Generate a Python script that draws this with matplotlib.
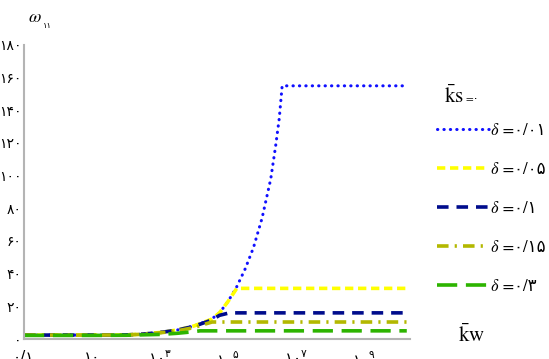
import matplotlib
matplotlib.use("Agg")
import matplotlib.pyplot as plt

# ---- data ----
x_ticks = [1e-1, 1e1, 1e3, 1e5, 1e7, 1e9]
x_tick_labels = ['۰/۱', '۱۰', r'$۱۰^{۳}$', r'$۱۰^{۵}$', r'$۱۰^{۷}$', r'$۱۰^{۹}$']
y_ticks = [0, 20, 40, 60, 80, 100, 120, 140, 160, 180]
y_tick_labels = ['۰', '۲۰', '۴۰', '۶۰', '۸۰', '۱۰۰', '۱۲۰', '۱۴۰', '۱۶۰', '۱۸۰']

kw_001 = [1e-1, 1e1, 1e2, 3.2e2, 1e3, 3.2e3, 1e4, 3.2e4, 5.6e4, 1e5, 1.8e5, 3.2e5, 5.6e5, 1e6, 1.8e6, 2.5e6, 3.2e6, 3.9e6, 1.8e10]
w_001 = [2.4, 2.4, 2.5, 3.0, 4.0, 5.5, 8.0, 12, 16, 23, 32, 43, 56, 74, 98, 118, 135, 155, 155]

kw_005 = [1e-1, 1e1, 1e2, 3.2e2, 1e3, 3.2e3, 1e4, 3.2e4, 5.6e4, 1e5, 1.8e5, 1.8e10]
w_005 = [2.4, 2.4, 2.5, 3.0, 4.0, 5.5, 8.0, 12, 16, 23, 31, 31]

kw_01 = [1e-1, 1e1, 1e2, 3.2e2, 1e3, 3.2e3, 1e4, 3.2e4, 5.6e4, 1.1e5, 1.8e10]
w_01 = [2.4, 2.4, 2.5, 3.0, 4.0, 5.4, 7.8, 11.5, 14.5, 16, 16]

kw_015 = [1e-1, 1e1, 1e2, 3.2e2, 1e3, 3.2e3, 1e4, 2e4, 3.4e4, 1.8e10]
w_015 = [2.4, 2.4, 2.5, 2.9, 3.8, 5.0, 7.0, 9.0, 10.4, 10.4]

kw_03 = [1e-1, 1e1, 1e2, 1e3, 3.2e3, 1e4, 1.5e4, 1.8e10]
w_03 = [2.2, 2.2, 2.3, 2.8, 3.5, 4.5, 5.0, 5.0]

labels = ['𝛿 =۰/۰۱', '𝛿 =۰/۰۵', '𝛿 =۰/۱', '𝛿 =۰/۱۵', '𝛿 =۰/۳']

# ---- figure ----
fig = plt.figure(figsize=(5.49, 3.59), dpi=100)
ax = fig.add_axes([24/549, 20/359, 386/549, 294/359])

l1, = ax.plot(kw_001, w_001, color='#1010ff', lw=2.2, linestyle=(0, (0.1, 2.0)),
              dash_capstyle='round')
l2, = ax.plot(kw_005, w_005, color='#ffff00', lw=2.6, linestyle=(0, (2.3, 1.3)))
l3, = ax.plot(kw_01, w_01, color='#000c8c', lw=2.6, linestyle=(0, (3.2, 2.2)))
l4, = ax.plot(kw_015, w_015, color='#b3b800', lw=2.6, linestyle=(0, (3.2, 1.7, 0.6, 1.7)))
l5, = ax.plot(kw_03, w_03, color='#2db400', lw=2.6, linestyle=(0, (5.6, 2.4)))

ax.set_xscale('log')
ax.set_xlim(1e-1, 10**10.35)
ax.set_ylim(0, 180)
ax.minorticks_off()
ax.set_xticks(x_ticks, x_tick_labels)
ax.set_yticks(y_ticks, y_tick_labels)
ax.tick_params(axis='x', length=0, labelsize=11, pad=8)
ax.tick_params(axis='y', length=0, labelsize=10, pad=2)
for t in ax.get_xticklabels() + ax.get_yticklabels():
    t.set_family(['DejaVu Sans'])

for s in ['top', 'right']:
    ax.spines[s].set_visible(False)
for s in ['left', 'bottom']:
    ax.spines[s].set_color('#b4b4b4')
    ax.spines[s].set_linewidth(1.5)

# axis labels
fig.text(28/549, 1 - 17/359, r'$\omega$', fontsize=13, math_fontfamily='stix',
         ha='left', va='center')
fig.text(43/549, 1 - 26/359, '۱۱', fontsize=6, family=['DejaVu Sans'],
         ha='left', va='center')
fig.text(458/549, 1 - 335/359, r'$\bar{\mathrm{k}}\mathrm{w}$', fontsize=15,
         math_fontfamily='stix', ha='left', va='center')

# legend title
fig.text(444/549, 1 - 96/359, r'$\bar{\mathrm{k}}\mathrm{s}$', fontsize=15,
         math_fontfamily='stix', ha='left', va='center')
fig.text(465/549, 1 - 99/359, '=۰', fontsize=8, family=['STIXGeneral', 'DejaVu Sans'],
         ha='left', va='center')

leg = fig.legend([l1, l2, l3, l4, l5], labels, loc='upper left',
                 bbox_to_anchor=(437/549, 1 - 123/359), frameon=False,
                 prop={'family': ['STIXGeneral', 'DejaVu Sans'], 'size': 12},
                 handlelength=3.1, handletextpad=0.15, labelspacing=1.38,
                 borderpad=0, borderaxespad=0)

fig.savefig('out.png', dpi=100)
